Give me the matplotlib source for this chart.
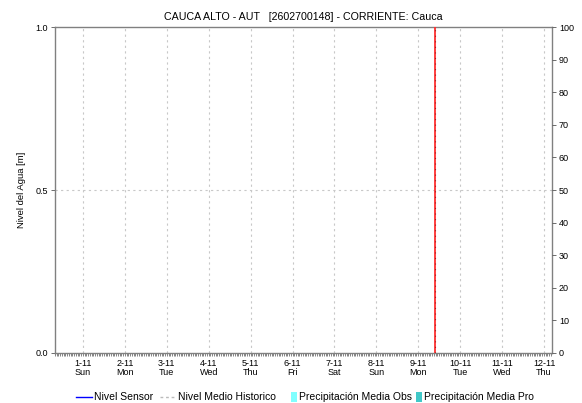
import matplotlib
matplotlib.use("Agg")
import matplotlib.pyplot as plt
from matplotlib.lines import Line2D
from matplotlib.patches import Rectangle
import numpy as np

plt.rcParams['font.family'] = ['Liberation Sans', 'DejaVu Sans']

title = "CAUCA ALTO - AUT   [2602700148] - CORRIENTE: Cauca"
day_numbers = [1, 2, 3, 4, 5, 6, 7, 8, 9, 10, 11, 12]
day_labels = ["1-11\nSun", "2-11\nMon", "3-11\nTue", "4-11\nWed", "5-11\nThu", "6-11\nFri",
              "7-11\nSat", "8-11\nSun", "9-11\nMon", "10-11\nTue", "11-11\nWed", "12-11\nThu"]
nivel_sensor_x = []
nivel_sensor_y = []
nivel_medio_x = []
nivel_medio_y = []
current_time = 9.41  # Nov 9 ~09:50
left_ticks = [0.0, 0.5, 1.0]
right_ticks = [0, 10, 20, 30, 40, 50, 60, 70, 80, 90, 100]
legend_labels = ["Nivel Sensor", "Nivel Medio Historico", "Precipitación Media Obs", "Precipitación Media Pro"]

W, H = 582, 403
fig = plt.figure(figsize=(W/100, H/100), dpi=100)
ax = fig.add_axes([55/W, 1 - 353/H, (552-55)/W, (353-27)/H])
ax.set_xlim(0.332, 12.19)
ax.set_ylim(0, 1)

ax.plot(nivel_sensor_x, nivel_sensor_y, color='blue', lw=1)
ax.plot(nivel_medio_x, nivel_medio_y, color='#bbbbbb', lw=1, ls='--')

ax.axvline(current_time, color='#ff3030', lw=1.3, zorder=5)
ax.axvline(current_time, color='#a02020', lw=0.8, ls=(0, (1, 4)), zorder=6)

ax.set_xticks(day_numbers)
ax.set_xticklabels(day_labels, fontsize=6.5, linespacing=1.1)
ax.set_xticks(np.arange(0.332, 12.19, 1/24), minor=True)
ax.tick_params(axis='x', which='major', length=0, pad=4)
ax.tick_params(axis='x', which='minor', length=2, width=0.5, color='#555555')
ax.set_yticks(left_ticks)
ax.set_yticklabels([f"{v:.1f}" for v in left_ticks], fontsize=6.5)
ax.tick_params(axis='y', length=3, width=0.6, color='#555555', pad=2)

for x in day_numbers:
    ax.axvline(x, color='#c8c8c8', lw=0.8, ls=(0, (2, 3)), zorder=0)
ax.axhline(0.5, color='#c8c8c8', lw=0.8, ls=(0, (2, 3)), zorder=0)

for s in ax.spines.values():
    s.set_color('#808080')
    s.set_linewidth(1.0)

ax.set_ylabel("Nivel del Agua [m]", fontsize=6.8, labelpad=7)
ax.set_title(title, fontsize=7.7, pad=5)

ax2 = ax.twinx()
ax2.set_ylim(0, 100)
ax2.set_yticks(right_ticks)
ax2.set_yticklabels([str(v) for v in right_ticks], fontsize=6.5)
ax2.tick_params(axis='y', length=3, width=0.6, color='#555555', pad=2)
for s in ax2.spines.values():
    s.set_visible(False)

# manual legend
ly = 1 - 397/H
def fx(px):
    return px / W
fig.add_artist(Line2D([fx(76), fx(92)], [ly, ly], color='blue', lw=1, transform=fig.transFigure))
fig.text(fx(94), ly, legend_labels[0], fontsize=7.5, va='center', ha='left')
fig.add_artist(Line2D([fx(160), fx(176)], [ly, ly], color='#bbbbbb', lw=1, ls=(0, (2, 2)), transform=fig.transFigure))
fig.text(fx(178), ly, legend_labels[1], fontsize=7.5, va='center', ha='left')
fig.add_artist(Rectangle((fx(291), 1 - 402/H), 6/W, 10/H, facecolor='#80ffff', edgecolor='none', transform=fig.transFigure))
fig.text(fx(299), ly, legend_labels[2], fontsize=7.5, va='center', ha='left')
fig.add_artist(Rectangle((fx(416), 1 - 402/H), 6/W, 10/H, facecolor='#40c8c8', edgecolor='none', transform=fig.transFigure))
fig.text(fx(424), ly, legend_labels[3], fontsize=7.5, va='center', ha='left')

fig.savefig("out.png", dpi=100)
